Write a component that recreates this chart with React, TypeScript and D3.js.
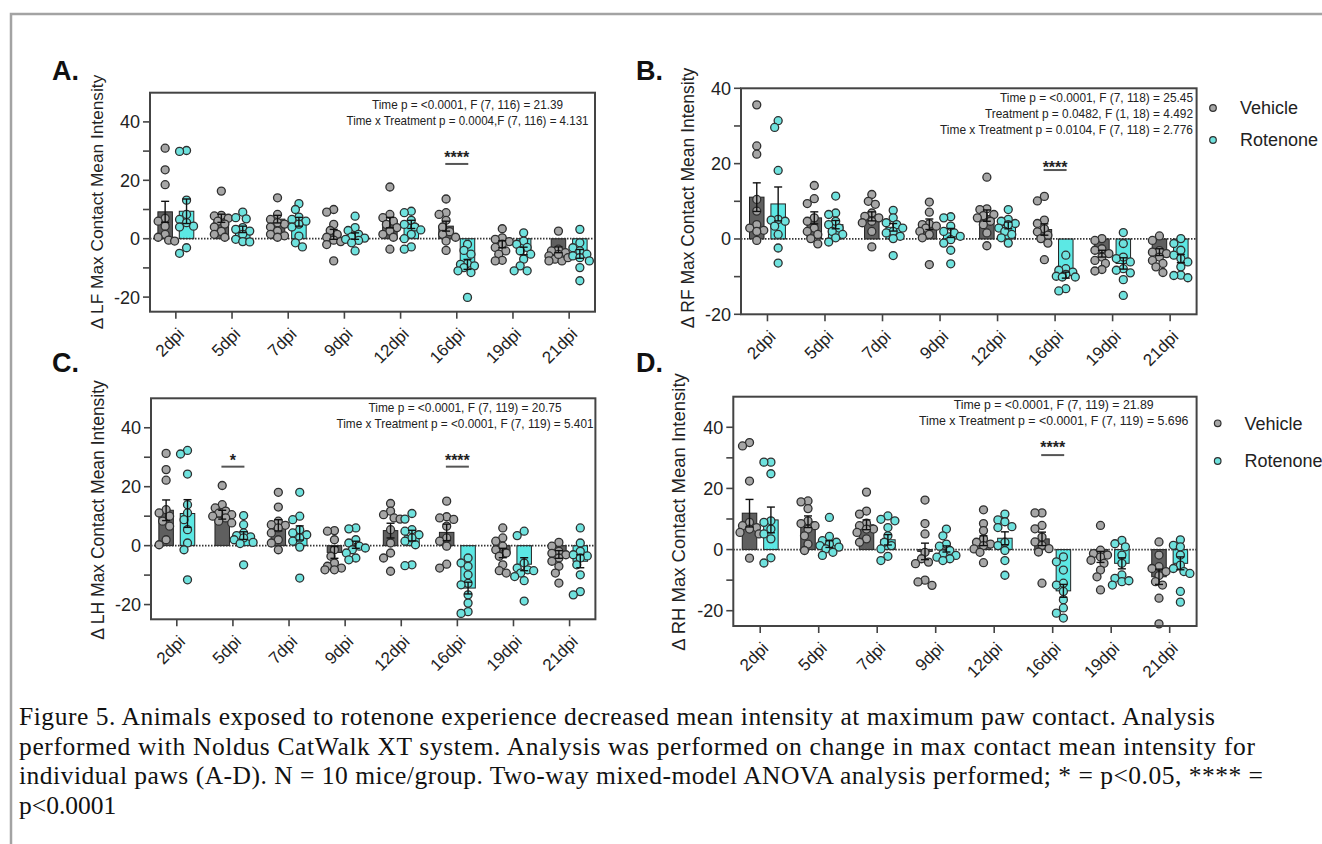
import React from "react";
import * as d3 from "d3";

const timepoints = ["2dpi", "5dpi", "7dpi", "9dpi", "12dpi", "16dpi", "19dpi", "21dpi"];
const groupNames = ["Vehicle", "Rotenone"];
const yTickValues = [-20, -10, 0, 10, 20, 30, 40];
const yTickLabels = [-20, 0, 20, 40];

// A. LF
const lfVehicleMean = [9.2, 7.0, 6.7, 1.5, 5.5, 4.3, -1.9, -3.8];
const lfVehicleSem = [3.6, 1.4, 1.3, 1.7, 1.8, 1.7, 1.2, 1.0];
const lfRotenoneMean = [9.4, 3.2, 5.8, 0.9, 4.9, -8.8, -4.2, -5.2];
const lfRotenoneSem = [4.2, 1.1, 1.5, 1.1, 1.4, 1.7, 1.3, 1.5];
const lfVehiclePts = [
  [31, 23.6, 18.5, 7, 6, 4.3, 1.5, 0.5, -0.5, -0.8],
  [16.3, 8, 7.8, 7, 6, 5, 4, 2.5, 1.5, 0.5],
  [14, 8.3, 6.6, 5.5, 5, 4, 2.6, 1.5, 1, 0.5],
  [10, 9.1, 4.9, 2.8, 1.5, 0.5, -0.5, -1, -2, -7.6],
  [17.7, 8.3, 7.2, 6, 4.9, 3.8, 2.6, 1.5, 0.5, -3.6],
  [13.6, 8.9, 8.3, 6.3, 4, 2.4, 1.5, 0.5, -0.8, -4],
  [3.4, 0.3, -0.2, -1, -1.9, -3, -4.2, -5.3, -7.4, -7.6],
  [2.6, -3.6, -4.2, -4.8, -5.9, -7, -7.6, -7.6, -6.5, -5.4],
];
const lfRotenonePts = [
  [30.2, 29.9, 13.2, 8.3, 6.6, 5.5, 4.3, 4, -3.1, -5],
  [9.1, 7.2, 6.8, 3.8, 3.2, 2.6, 1.5, -0.2, -1, -1.1],
  [12, 10, 7.4, 6.6, 6, 5, 4, 0.9, -1.4, -2.8],
  [7.7, 3.8, 2.8, 1.5, 0.6, 0.2, -0.2, -0.6, -1.4, -4.2],
  [9.4, 8.9, 6.3, 4.9, 4, 3, 1.5, 0, -2.8, -3.6],
  [-1.9, -4, -5.3, -8.5, -8.8, -9.3, -9.9, -11, -11.6, -20.1],
  [2, -0.8, -1.9, -3, -4.2, -5.3, -7, -9.3, -11, -11],
  [3.2, -1.4, -3.1, -4.2, -5.3, -5.9, -6.5, -7.6, -9.9, -14.4],
];

// B. RF
const rfVehicleMean = [11.1, 5.6, 6.0, 3.9, 6.2, 2.5, -3.9, -3.5];
const rfVehicleSem = [3.8, 1.6, 1.2, 1.4, 1.5, 1.5, 0.9, 0.9];
const rfRotenoneMean = [9.3, 3.8, 3.1, 1.6, 3.6, -9.6, -6.5, -5.2];
const rfRotenoneSem = [4.5, 1.1, 1.0, 1.2, 0.9, 0.8, 1.5, 1.1];
const rfVehiclePts = [
  [35.6, 24.7, 22.5, 10.5, 7.4, 3.8, 2.9, 2.3, 2, -0.4],
  [14.2, 10.7, 9.4, 5.6, 4.7, 2.9, 2, 1.2, 0.1, -1.3],
  [11.8, 10, 9.2, 6.9, 6, 5.6, 4.7, 4.3, 2, -2.1],
  [9.8, 7.1, 4, 3.8, 3.4, 2.9, 2, 1.2, 0.3, -6.8],
  [16.4, 8, 7.8, 6.5, 6.2, 5.6, 4.7, 3.8, 1.6, -1.8],
  [11.3, 10.1, 5, 4.1, 2.7, 1.9, 1, 0.1, -1.1, -5.5],
  [0.1, -0.4, -2.6, -3, -3.9, -4.8, -5.7, -6.5, -8.1, -8.5],
  [0.8, -0.4, -3.1, -3.5, -3.9, -4.8, -5.7, -6.5, -7.4, -8.9],
];
const rfRotenonePts = [
  [31.4, 29.6, 18.2, 5.2, 5, 4.7, 3.4, 1.2, -2.4, -6.4],
  [11.4, 6.9, 6.5, 4.7, 3.8, 2.9, 2, 1.2, 0.3, -0.8],
  [7.6, 5.6, 4.3, 3.8, 2.9, 2, 1.6, 0.7, 0.1, -4.4],
  [5.9, 5.6, 3.4, 2, 1.6, 0.7, -0.2, -1.1, -3, -6.6],
  [7.8, 5.2, 4.7, 4.1, 3.8, 2.9, 2, 1.2, 0.3, -1.1],
  [-4.3, -7.9, -8.3, -8.8, -9.4, -9.9, -10.1, -10.1, -13.2, -13.8],
  [1.7, -1.2, -4.8, -5.2, -6.1, -7.9, -8.3, -9, -10.8, -15],
  [0.1, -1.2, -3, -4.3, -5.2, -6.1, -7.4, -9.6, -9.7, -10.3],
];

// C. LH
const lhVehicleMean = [12.0, 10.5, 6.9, -2.3, 5.1, 4.5, -2.5, -3.0];
const lhVehicleSem = [3.5, 1.5, 1.9, 2.0, 2.5, 2.8, 1.6, 1.3];
const lhRotenoneMean = [10.9, 3.4, 4.3, 0.3, 3.4, -14.4, -6.3, -5.3];
const lhRotenoneSem = [4.7, 1.3, 2.4, 1.2, 1.8, 2.0, 2.2, 2.2];
const lhVehiclePts = [
  [31.3, 25.8, 22.2, 12.2, 11.1, 10, 8.3, 6.6, 2, 0.3],
  [20.4, 13.9, 12.8, 11.7, 11, 10.5, 10, 9.4, 8.3, 7.7],
  [18.1, 13.1, 8.3, 7.1, 6.9, 6, 4.3, 2, 0.9, -1.4],
  [5.1, 4.9, 2, -1.4, -3.6, -5.9, -7, -7.6, -8.2, -8.2],
  [14.3, 11.7, 10.5, 9.4, 9, 5.4, 0.9, -2.5, -4.2, -8.7],
  [15.1, 9.8, 9.4, 8.9, 6.6, 2.6, 1.5, -0.2, -6.3, -7.6],
  [6, 2.6, 1.5, -0.2, -1.4, -2.5, -3.6, -6.5, -8.5, -9.3],
  [1.1, -0.2, -1.9, -2.6, -3.1, -4.2, -5.3, -7, -9.3, -12.7],
];
const lhRotenonePts = [
  [32.3, 31.1, 24.3, 13.9, 11.1, 8.8, 5.4, 0.9, -1.4, -11.6],
  [10.2, 7.1, 4.3, 3.4, 3, 2.6, 2, 1.1, 0.7, -6.5],
  [18.1, 10, 8.8, 5.4, 4.3, 3.7, 2.6, 1.5, -0.5, -11],
  [6, 5.7, 2, 0.9, -0.2, -0.8, -1.4, -2.5, -4.2, -4.8],
  [10.9, 9, 5.4, 4.9, 3.7, 2.6, 1.5, 0.3, -6.5, -6.8],
  [-4.2, -5.9, -7, -9.9, -12.8, -13.3, -16.7, -19.5, -22.4, -23],
  [4.9, 3.4, -5.9, -7.6, -8.2, -8.5, -9.3, -10.5, -11.9, -18.8],
  [6, 0.9, -1.9, -3.1, -3.5, -4.2, -6.5, -9.9, -15.6, -16.7],
];

// D. RH
const rhVehicleMean = [11.9, 9.1, 8.1, -0.6, 2.9, 3.5, -2.4, -8.9];
const rhVehicleSem = [4.5, 1.9, 1.6, 2.7, 1.6, 2.2, 1.8, 2.5];
const rhRotenoneMean = [9.7, 1.8, 3.2, 0.2, 3.7, -13.5, -4.5, -4.5];
const rhRotenoneSem = [4.2, 1.1, 1.7, 1.0, 2.1, 2.1, 1.8, 2.1];
const rhVehiclePts = [
  [35, 33.9, 22.4, 8.9, 7.8, 7.2, 6.7, 5.6, 5.1, -2.8],
  [15.9, 15.6, 13.4, 9.4, 8.5, 7.8, 6.7, 4.5, 1.8, -0.3],
  [18.8, 12.6, 11.6, 8.6, 7.8, 6.7, 6.7, 5.6, 3.5, 2.4],
  [16.2, 8.5, 5.1, -0.9, -3, -4.1, -4.6, -10, -10.6, -11.7],
  [13, 8.5, 6.2, 3.5, 2.4, 1.8, 1.3, 0.2, -0.9, -4.3],
  [12, 12, 7.9, 6.8, 4.1, 2.5, 1.4, 0.3, -0.8, -11],
  [7.9, -0.2, -1.3, -1.8, -2.4, -3.5, -4.5, -6.7, -8.9, -13.2],
  [2.5, -1.8, -5.6, -6.2, -7.2, -8.5, -10.5, -11.6, -15.9, -24.3],
];
const rhRotenonePts = [
  [28.6, 28.6, 24.8, 9.4, 8.9, 6.7, 5.1, 3.5, -2.7, -4.4],
  [10.5, 4.3, 2.9, 2.4, 1.8, 1.3, 0.8, 0.2, -0.9, -1.9],
  [11, 9.9, 9.4, 7.2, 4.5, 2.4, 1.3, 0.2, -2.2, -3.6],
  [6.7, 4.5, 1.8, 1.1, -0.3, -1.4, -1.9, -2.5, -3, -3.6],
  [11.6, 9.7, 9.1, 7.5, 7.2, 2.4, 1.3, -0.3, -3.6, -8.4],
  [-2.4, -4, -6.7, -11, -11.6, -13.7, -16.4, -19.1, -20.8, -22.4],
  [3, 1.9, 0.9, -1.8, -4.5, -8.3, -9.4, -10.5, -11.6, -10.2],
  [3.2, 1.4, 0.9, -1.8, -5.1, -6.2, -7.2, -7.8, -13.7, -17.2],
];

const captionLines = [
  "Figure 5. Animals exposed to rotenone experience decreased mean intensity at maximum paw contact. Analysis",
  "performed with Noldus CatWalk XT system. Analysis was performed on change in max contact mean intensity for",
  "individual paws (A-D). N = 10 mice/group. Two-way mixed-model ANOVA analysis performed; * = p<0.05, **** =",
  "p<0.0001",
];
const captionWidths = [1196, 1236, 1244, null];

const SANS = "Arial, 'Liberation Sans', Helvetica, sans-serif";
const VEH_BAR = "#5f5f5f";
const VEH_PT = "#a6a6a6";
const ROT_BAR = "#5ce8e4";
const ROT_PT = "#6fe2de";
const INK = "#2f2f2f";

const panels = [
  {
    letter: "A.", lx: 52, ly: 80,
    title: "\u0394 LF Max Contact Mean Intensity", tx: 97, ty: 202, tsize: 17.3,
    left: 150, right: 595, top: 92.7, bottom: 311.7, domain: [-25, 50],
    vMean: lfVehicleMean, vSem: lfVehicleSem, rMean: lfRotenoneMean, rSem: lfRotenoneSem,
    vPts: lfVehiclePts, rPts: lfRotenonePts,
    stats: ["Time p = <0.0001,  F (7, 116) = 21.39", "Time x Treatment p = 0.0004,F (7, 116) = 4.131"],
    statsX: 467.5, statsY: [109, 124.7], statsW: [191, 242], anchor: "middle",
    sig: [{ tp: "16dpi", label: "****", y: 25.6, gap: 10 }],
    legend: null,
  },
  {
    letter: "B.", lx: 636, ly: 80,
    title: "\u0394 RF Max Contact Mean Intensity", tx: 688, ty: 198, tsize: 17.5,
    left: 741, right: 1196.6, top: 88.3, bottom: 314.3, domain: [-20, 40],
    vMean: rfVehicleMean, vSem: rfVehicleSem, rMean: rfRotenoneMean, rSem: rfRotenoneSem,
    vPts: rfVehiclePts, rPts: rfRotenonePts,
    stats: [
      "Time p = <0.0001, F (7, 118) = 25.45",
      "Treatment p = 0.0482, F (1, 18) = 4.492",
      "Time x Treatment p = 0.0104, F (7, 118) = 2.776",
    ],
    statsX: 1193, statsY: [102.3, 118.3, 134], statsW: [193, 208, 253], anchor: "end",
    sig: [{ tp: "16dpi", label: "****", y: 18.3, gap: 6.5 }],
    legend: { x: 1213, y: [108, 140], textX: 1240 },
  },
  {
    letter: "C.", lx: 52, ly: 372,
    title: "\u0394 LH Max Contact Mean Intensity", tx: 98, ty: 510, tsize: 17.5,
    left: 151, right: 595.4, top: 398.3, bottom: 619.3, domain: [-25, 50],
    vMean: lhVehicleMean, vSem: lhVehicleSem, rMean: lhRotenoneMean, rSem: lhRotenoneSem,
    vPts: lhVehiclePts, rPts: lhRotenonePts,
    stats: ["Time p = <0.0001,  F (7, 119) = 20.75", "Time x Treatment p = <0.0001,  F (7, 119) = 5.401"],
    statsX: 465, statsY: [412.3, 428.3], statsW: [193, 257], anchor: "middle",
    sig: [
      { tp: "5dpi", label: "*", y: 26.8, gap: 10 },
      { tp: "16dpi", label: "****", y: 26.8, gap: 10 },
    ],
    legend: null,
  },
  {
    letter: "D.", lx: 636, ly: 372,
    title: "\u0394 RH Max Contact Mean Intensity", tx: 678, ty: 512, tsize: 18.5,
    left: 733.3, right: 1196.6, top: 396.7, bottom: 626, domain: [-25, 50],
    vMean: rhVehicleMean, vSem: rhVehicleSem, rMean: rhRotenoneMean, rSem: rhRotenoneSem,
    vPts: rhVehiclePts, rPts: rhRotenonePts,
    stats: ["Time p = <0.0001,  F (7, 119) = 21.89", "Time x Treatment p = <0.0001,  F (7, 119) = 5.696"],
    statsX: 1053.7, statsY: [409, 424.7], statsW: [200, 269.6], anchor: "middle",
    sig: [{ tp: "16dpi", label: "****", y: 30.9, gap: 11 }],
    legend: { x: 1217.7, y: [423.3, 461], textX: 1244.5 },
  },
];

const R = 4;

// simple beeswarm: horizontal offsets so dots don't sit on top of each other
function swarm(vals: number[], y: (v: number) => number) {
  const order = vals.map((_, i) => i).sort((a, b) => vals[b] - vals[a]);
  const cands = [0, -3.5, 3.5, -7, 7, -9.5, 9.5];
  const placed: { x: number; y: number }[] = [];
  const out: number[] = new Array(vals.length).fill(0);
  for (const i of order) {
    const py = y(vals[i]);
    let best = 0;
    let bestD = -1;
    for (const c of cands) {
      const d = placed.length ? d3.min(placed, (p) => Math.hypot(p.x - c, p.y - py))! : 99;
      if (d >= R * 1.7) { best = c; bestD = d; break; }
      if (d > bestD) { bestD = d; best = c; }
    }
    placed.push({ x: best, y: py });
    out[i] = best;
  }
  return out;
}

function Panel({ p }: { p: any }) {
  const y = d3.scaleLinear().domain(p.domain).range([p.bottom, p.top]);
  const x = d3.scalePoint().domain(timepoints).range([p.left, p.right]).padding(0.46);
  const off = 10.7;
  const bw = 14.5;
  const series = [
    { mean: p.vMean, sem: p.vSem, pts: p.vPts, bar: VEH_BAR, dot: VEH_PT, dx: -off },
    { mean: p.rMean, sem: p.rSem, pts: p.rPts, bar: ROT_BAR, dot: ROT_PT, dx: off },
  ];
  const y0 = y(0);
  return (
    <g>
      <text x={p.lx} y={p.ly} fontFamily={SANS} fontWeight="bold" fontSize={27} fill="#111">
        {p.letter}
      </text>
      <text
        transform={`translate(${p.tx},${p.ty}) rotate(-90)`}
        textAnchor="middle"
        dy="0.36em"
        fontFamily={SANS}
        fontSize={p.tsize}
        fill="#222"
      >
        {p.title}
      </text>

      {/* bars */}
      {series.map((s, si) =>
        timepoints.map((t, i) => {
          const cx = x(t)! + s.dx;
          const ym = y(s.mean[i]);
          return (
            <rect
              key={`b${si}${i}`}
              x={cx - bw / 2}
              y={Math.min(ym, y0)}
              width={bw}
              height={Math.abs(ym - y0)}
              fill={s.bar}
              stroke="#222"
              strokeWidth={1}
            />
          );
        })
      )}

      {/* dotted zero line */}
      <line x1={p.left} x2={p.right} y1={y0} y2={y0} stroke="#333" strokeWidth={1.8} strokeDasharray="1.5,1.5" />

      {/* individual animals */}
      {series.map((s, si) =>
        timepoints.map((t, i) => {
          const jit = swarm(s.pts[i], y);
          return s.pts[i].map((v: number, k: number) => (
            <circle
              key={`p${si}${i}${k}`}
              cx={x(t)! + s.dx + jit[k]}
              cy={y(v)}
              r={R}
              fill={s.dot}
              stroke={INK}
              strokeWidth={1.3}
            />
          ));
        })
      )}

      {/* mean ± SEM */}
      {series.map((s, si) =>
        timepoints.map((t, i) => {
          const cx = x(t)! + s.dx;
          const hi = y(s.mean[i] + s.sem[i]);
          const lo = y(s.mean[i] - s.sem[i]);
          return (
            <g key={`e${si}${i}`} stroke="#111" strokeWidth={1.4}>
              <line x1={cx} x2={cx} y1={hi} y2={lo} />
              <line x1={cx - 4} x2={cx + 4} y1={hi} y2={hi} />
              <line x1={cx - 4} x2={cx + 4} y1={lo} y2={lo} />
            </g>
          );
        })
      )}

      {/* frame */}
      <rect x={p.left} y={p.top} width={p.right - p.left} height={p.bottom - p.top} fill="none" stroke="#444" strokeWidth={2} />

      {/* y axis */}
      {yTickValues.map((v) => (
        <line key={`yt${v}`} x1={p.left - 7} x2={p.left} y1={y(v)} y2={y(v)} stroke="#444" strokeWidth={1.6} />
      ))}
      {yTickLabels.map((v) => (
        <text key={`yl${v}`} x={p.left - 10} y={y(v)} dy="0.36em" textAnchor="end" fontFamily={SANS} fontSize={18} fill="#222">
          {v}
        </text>
      ))}

      {/* x axis */}
      {timepoints.map((t) => (
        <g key={`xt${t}`}>
          <line x1={x(t)} x2={x(t)} y1={p.bottom} y2={p.bottom + 7} stroke="#444" strokeWidth={1.6} />
          <text
            transform={`translate(${x(t)! + 5},${p.bottom + 19}) rotate(-45)`}
            textAnchor="end"
            dy="0.36em"
            fontFamily={SANS}
            fontSize={17}
            fill="#222"
          >
            {t}
          </text>
        </g>
      ))}

      {/* ANOVA summary */}
      {p.stats.map((s: string, i: number) => (
        <text
          key={`st${i}`}
          x={p.statsX}
          y={p.statsY[i]}
          textAnchor={p.anchor}
          fontFamily={SANS}
          fontSize={13}
          textLength={p.statsW[i]}
          lengthAdjust="spacingAndGlyphs"
          fill="#222"
        >
          {s}
        </text>
      ))}

      {/* significance */}
      {p.sig.map((s: any) => {
        const cx = x(s.tp)!;
        const ly = y(s.y);
        return (
          <g key={`sg${s.tp}`}>
            <line x1={cx - 11.5} x2={cx + 11.5} y1={ly} y2={ly} stroke="#555" strokeWidth={2} />
            <text x={cx} y={ly - s.gap + 9} textAnchor="middle" fontFamily={SANS} fontWeight="bold" fontSize={16} fill="#222">
              {s.label}
            </text>
          </g>
        );
      })}

      {/* legend */}
      {p.legend &&
        groupNames.map((g, i) => (
          <g key={`lg${g}`}>
            <circle cx={p.legend.x} cy={p.legend.y[i]} r={3.3} fill={i === 0 ? VEH_PT : ROT_PT} stroke={INK} strokeWidth={1.2} />
            <text x={p.legend.textX} y={p.legend.y[i]} dy="0.36em" fontFamily={SANS} fontSize={18} fill="#222">
              {g}
            </text>
          </g>
        ))}
    </g>
  );
}

export default function App() {
  return (
    <div style={{ position: "absolute", left: 0, top: 0 }}>
      <svg width={1322} height={844} style={{ display: "block", background: "#fff" }}>
        <rect x={11} y={14} width={1340} height={870} fill="none" stroke="#a3a3a3" strokeWidth={2.5} />
        {panels.map((p) => (
          <Panel key={p.letter} p={p} />
        ))}
        {captionLines.map((l, i) => (
          <text
            key={`c${i}`}
            x={19}
            y={725 + i * 29.5}
            fontFamily="'Liberation Serif', 'Times New Roman', serif"
            fontSize={25.5}
            fill="#111"
            textLength={captionWidths[i] ?? undefined}
            lengthAdjust="spacing"
          >
            {l}
          </text>
        ))}
      </svg>
    </div>
  );
}
